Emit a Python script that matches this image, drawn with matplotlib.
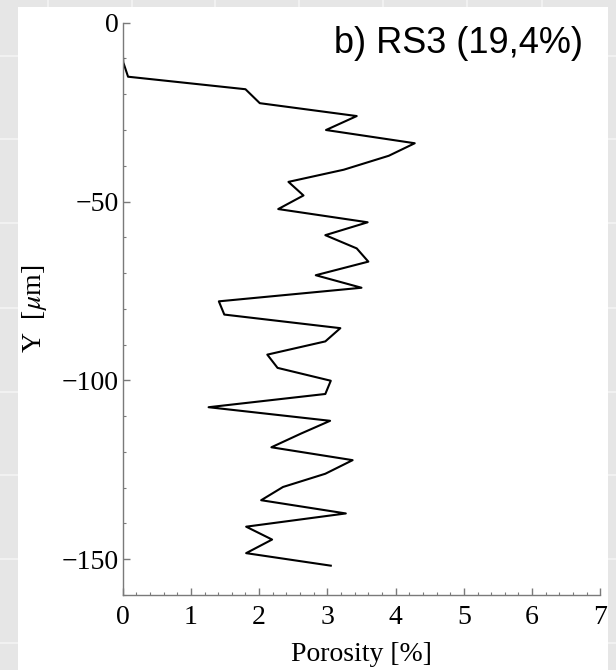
"""Porosity profile along depth for sample RS3."""

import matplotlib
matplotlib.use("Agg")
import matplotlib.pyplot as plt
from matplotlib.lines import Line2D
from matplotlib.patches import Rectangle
from matplotlib.ticker import MultipleLocator

# porosity [%] against depth Y [um]
depth = [0, -3.7, -7.4, -11.1, -15.1, -18.6, -22.5, -26.1, -30.0, -33.7,
         -37.2, -41.1, -44.5, -48.3, -52.1, -55.8, -59.4, -63.1, -66.8,
         -70.6, -74.1, -77.9, -81.6, -85.4, -89.1, -92.8, -96.5, -100.1,
         -103.8, -107.5, -111.3, -114.9, -118.7, -122.3, -126.1, -129.8,
         -133.5, -137.2, -140.9, -144.5, -148.3, -151.8]
porosity = [0, 0, 0, 0.01, 0.08, 1.80, 2.01, 3.43, 2.98, 4.28,
            3.90, 3.24, 2.43, 2.65, 2.28, 3.59, 2.97, 3.43, 3.60,
            2.83, 3.50, 1.41, 1.49, 3.19, 2.97, 2.12, 2.27, 3.05,
            2.97, 1.26, 3.04, 2.61, 2.18, 3.37, 2.97, 2.35,
            2.03, 3.27, 1.81, 2.19, 1.81, 3.05]
title = "b) RS3 (19,4%)"

W, H = 616, 670

plt.rcParams["mathtext.fontset"] = "stix"
fig = plt.figure(figsize=(W / 100, H / 100), dpi=100)
fig.patch.set_facecolor("#e6e6e6")

# spreadsheet-like backdrop around the pasted figure
for yp in [56, 139, 223, 308, 392, 475, 559, 643]:
    fig.add_artist(Line2D([0, 1], [1 - yp / H] * 2, color="#f4f4f4",
                          lw=1.2, zorder=-3))
for xp in [48, 132, 215, 299, 383, 467, 542]:
    fig.add_artist(Line2D([xp / W] * 2, [0, 1], color="#f4f4f4",
                          lw=1.2, zorder=-3))
fig.add_artist(Rectangle((18 / W, 0), (608 - 18) / W, (H - 7) / H,
                         transform=fig.transFigure, facecolor="white",
                         edgecolor="none", zorder=-2))

ax = fig.add_axes([122.6 / W, 75 / H, 477.8 / W, 572.3 / H])
ax.set_facecolor("none")
ax.plot(porosity, depth, color="black", lw=1.5)

ax.set_xlim(0, 7)
ax.set_ylim(-160, 0)
ax.xaxis.set_major_locator(MultipleLocator(1))
ax.xaxis.set_minor_locator(MultipleLocator(0.2))
ax.yaxis.set_major_locator(MultipleLocator(50))
ax.yaxis.set_minor_locator(MultipleLocator(10))

for side in ["top", "right"]:
    ax.spines[side].set_visible(False)
for side in ["left", "bottom"]:
    ax.spines[side].set_color("#7a7a7a")
    ax.spines[side].set_linewidth(1.0)

serif = "Liberation Serif"
ax.tick_params(which="both", direction="in", color="#7a7a7a")
ax.tick_params(which="major", length=5, width=1)
ax.tick_params(which="minor", length=2.5, width=0.8)
ax.tick_params(axis="x", pad=7)
ax.tick_params(axis="y", pad=3)
for lab in ax.get_xticklabels() + ax.get_yticklabels():
    lab.set_fontfamily(serif)
    lab.set_fontsize(20)

ax.set_xlabel("Porosity [%]", fontfamily=serif, fontsize=20, labelpad=9)
ax.set_ylabel(r"Y  [$\mu$m]", fontfamily=serif, fontsize=20)
ax.yaxis.set_label_coords(-0.153, 0.5)

fig.text(583 / W, 1 - 53 / H, title, ha="right", va="baseline",
         fontfamily="Liberation Sans", fontsize=26)

fig.savefig("out.png", dpi=100, facecolor=fig.get_facecolor())
